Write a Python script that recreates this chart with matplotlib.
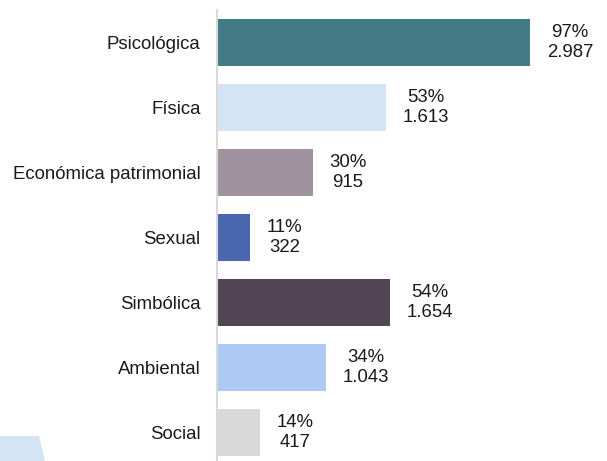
import matplotlib
matplotlib.use("Agg")
import matplotlib.pyplot as plt
from matplotlib.patches import Polygon

categories = ["Psicológica", "Física", "Económica patrimonial", "Sexual",
              "Simbólica", "Ambiental", "Social"]
values = [2987, 1613, 915, 322, 1654, 1043, 417]
percents = [97, 53, 30, 11, 54, 34, 14]
colors = ["#427b85", "#d4e4f5", "#a0919f", "#4a66af", "#514555", "#adc9f4", "#d9d9d9"]

plt.rcParams['font.family'] = ['Liberation Sans', 'DejaVu Sans']

W, H = 607, 461
fig = plt.figure(figsize=(W / 100, H / 100), dpi=100)

# decorative shape bottom-left
poly = Polygon([(0, 1 - 436 / H), (39 / W, 1 - 436 / H), (45 / W, 0), (0, 0)],
               closed=True, transform=fig.transFigure, facecolor="#d4e4f5",
               edgecolor="none", zorder=0)
fig.patches.append(poly)

left = 216.5 / W
top_px, bot_px = 10, 465
ax = fig.add_axes([left, (H - bot_px) / H, 1 - left, (bot_px - top_px) / H])
ax.patch.set_alpha(0)

px_per_unit = (530 - 216.5) / 2987
ax.set_xlim(0, (W - 216.5) / px_per_unit)
ypos = list(range(len(categories)))
ax.barh(ypos, values, height=47 / 65, color=colors, zorder=2)
ax.set_ylim(len(categories) - 0.5, -0.5)

for y, v, p in zip(ypos, values, percents):
    label = f"{p}%\n{v:,}".replace(",", ".")
    ax.annotate(label, xy=(v, y), xytext=(12, 0), textcoords="offset points",
                ha="left", va="center", multialignment="center",
                fontsize=13.4, linespacing=1.2, color="#1a1a1a")

ax.set_yticks(ypos)
ax.set_yticklabels(categories, fontsize=13.4, color="#1a1a1a")
ax.tick_params(axis="y", length=0, pad=11.5)
ax.set_xticks([])
for s in ["top", "right", "bottom"]:
    ax.spines[s].set_visible(False)
ax.spines["left"].set_color("#d9d9d9")
ax.spines["left"].set_linewidth(1.5)

fig.savefig("out.png", dpi=100)
